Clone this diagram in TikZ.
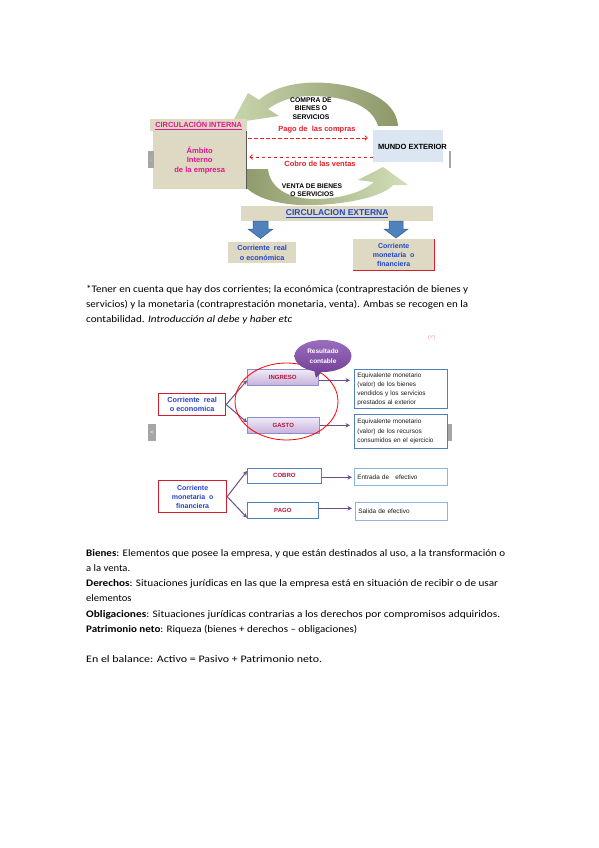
\documentclass[tikz,border=0pt]{standalone}
\usepackage{fontspec}
\usepackage{graphicx}
\setmainfont{Carlito}
\newfontfamily\diag{Liberation Sans}
\usetikzlibrary{shapes.geometric,shapes.callouts,arrows.meta,calc}
\definecolor{beige}{HTML}{DDD9C3}
\definecolor{mag}{HTML}{E4158F}
\definecolor{dred}{HTML}{E3202A}
\definecolor{dblue}{HTML}{2444C6}
\definecolor{lblue}{HTML}{DCE6F2}
\definecolor{arrblue}{HTML}{4F81BD}
\definecolor{arrblued}{HTML}{385D8A}
\definecolor{purpA}{HTML}{9A6DBE}
\definecolor{purpB}{HTML}{6E3C92}
\definecolor{conncol}{HTML}{6B4F8C}
\definecolor{boxblue}{HTML}{4F81BD}
\definecolor{lightbox}{HTML}{8DB4E2}
\definecolor{olived}{HTML}{8C9868}
\definecolor{olivel}{HTML}{D3DFB8}
\definecolor{lavA}{HTML}{F1EBF8}
\definecolor{lavB}{HTML}{C6B2DC}
\definecolor{lavborder}{HTML}{8E8CCB}
\definecolor{ingred}{HTML}{B3123E}
\definecolor{redb}{HTML}{D2202E}
\definecolor{tabgrey}{HTML}{A6A6A6}
\definecolor{txtgrey}{HTML}{1A1A1A}
\newcommand{\dfs}[2]{\diag\fontsize{#1}{#2}\selectfont}
\newcommand{\fitline}[2]{\resizebox{#1pt}{\height}{#2}}
\tikzset{
  lab/.style={inner sep=0pt, align=center},
  body/.style={inner sep=0pt, anchor=base west, font=\fontsize{10}{12}\selectfont},
  beigebox/.style={fill=beige, inner sep=0pt, anchor=north west},
  conn/.style={draw=conncol, line width=1pt, -{Stealth[length=4.5pt,width=4.5pt]}},
  redash/.style={draw=dred, line width=0.8pt, dash pattern=on 3.5pt off 2.5pt, -{Straight Barb[length=2.5pt,width=4.5pt]}},
  lavbox/.style={top color=lavA, bottom color=lavB, draw=lavborder, line width=0.6pt, inner sep=0pt, anchor=north west},
  whbox/.style={fill=white, draw=boxblue, line width=0.7pt, inner sep=0pt, anchor=north west},
  txtbox/.style={fill=white, draw=boxblue, line width=0.8pt, inner sep=3pt, anchor=north west, align=left, text=txtgrey},
  redbox/.style={fill=white, draw=redb, line width=1.2pt, inner sep=0pt, anchor=north west, align=center},
  tab/.style={fill=tabgrey, inner sep=0pt, anchor=north west, text=white},
}
\begin{document}
\begin{tikzpicture}[x=1pt,y=-1pt]
\useasboundingbox (0,0) rectangle (599,848);
\fill[white] (0,0) rectangle (599,848);

% ---------- top diagram: curved arrows
\shade[left color=olivel!85!olived, right color=olived]
  (398,126) .. controls (396,92) and (340,80) .. (305,83)
  .. controls (282,85) and (268,92) .. (259,100)
  -- (248,93) -- (232,123) -- (279,116) -- (268,109)
  .. controls (280,100) and (295,96) .. (310,96)
  .. controls (345,96) and (372,105) .. (378,126) -- cycle;
\shade[left color=olived, right color=olivel]
  (238,169) .. controls (238,195) and (275,207) .. (318,205)
  .. controls (355,203) and (385,195) .. (393,185)
  -- (408,185) -- (383,167) -- (358,180) -- (374,182)
  .. controls (362,193) and (338,199) .. (315,199)
  .. controls (288,199) and (270,188) .. (268,169) -- cycle;

\node[lab, font=\dfs{6.8}{8.5}\bfseries] (compra) at (311,108.5) {COMPRA DE\\BIENES O\\SERVICIOS};
\node[lab, font=\dfs{6.7}{8}\bfseries] (venta) at (312,190) {VENTA DE BIENES\\O SERVICIOS};

\node[beigebox, minimum width=97pt, minimum height=12pt] (cint) at (150,119)
  {\dfs{7.4}{8}\bfseries\color{mag}\underline{CIRCULACIÓN INTERNA}};
\node[beigebox, minimum width=93pt, minimum height=58pt, align=center, text=mag,
  font=\dfs{7.6}{9.5}\bfseries] (ambito) at (153,131) {Ámbito\\Interno\\de la empresa};
\draw[black!65, line width=1pt] (ambito.north east) -- (ambito.south east);

\node[fill=lblue, inner sep=0pt, anchor=north west, minimum width=70pt, minimum height=32pt] (mundo) at (373,130) {};
\node[lab, font=\dfs{7.5}{8}\bfseries] (mundotxt) at (412.5,147) {MUNDO EXTERIOR};

\draw[redash, shorten <=2pt, shorten >=5pt] (ambito.east |- 0,138) -- (mundo.west |- 0,138);
\draw[redash, shorten >=3pt] (mundo.west |- 0,157) -- (ambito.east |- 0,157);
\node[lab, font=\dfs{7.5}{8}\bfseries, text=dred] (pago) at (317,130) {Pago de \ las compras};
\node[lab, font=\dfs{7.5}{8}\bfseries, text=dred] (cobrot) at (320,164) {Cobro de las ventas};

\node[beigebox, minimum width=192pt, minimum height=15pt] (cext) at (241,206)
  {\dfs{8.5}{9}\bfseries\color{dblue}\underline{CIRCULACION EXTERNA}};

\filldraw[fill=arrblue, draw=arrblued, line width=0.5pt]
  (253,221) -- (268,221) -- (268,229) -- (273,229) -- (260.5,238.5) -- (248,229) -- (253,229) -- cycle;
\filldraw[fill=arrblue, draw=arrblued, line width=0.5pt]
  (389,221) -- (403,221) -- (403,229) -- (408,229) -- (396,238) -- (384,229) -- (389,229) -- cycle;

\node[beigebox, minimum width=68pt, minimum height=21pt, align=center, text=dblue,
  font=\dfs{7.3}{10}\bfseries] (creal1) at (228,242) {Corriente \ real\\o económica};
\node[beigebox, minimum width=81pt, minimum height=31pt, align=center, text=dblue,
  font=\dfs{7}{9}\bfseries] (cmon1) at (353,239) {Corriente\\monetaria \ o\\financiera};
\draw[redb, line width=1pt] (cmon1.north east) -- (cmon1.south east) -- (cmon1.south west);

% slide navigation tabs
\node[tab, minimum width=6pt, minimum height=17pt, font=\dfs{5}{5}] (tabA) at (148,151) {:};
\node[tab, minimum width=2pt, minimum height=17pt] (tabB) at (449,151) {};

% ---------- paragraph
\node[body] (p1) at (86,292.3) {\fitline{382}{*Tener en cuenta que hay dos corrientes; la económica (contraprestación de bienes y}};
\node[body] (p2) at (86,307.6) {\fitline{382}{servicios) y la monetaria (contraprestación monetaria, venta). Ambas se recogen en la}};
\node[body] (p3) at (86,322.6) {\fitline{206}{contabilidad. \textit{Introducción al debe y haber etc}}};

% ---------- second diagram
\node[lab, font=\dfs{5.5}{6}, text=red!45] (umark) at (432,338) {(ᵘ”)};

\node[redbox, minimum width=67pt, minimum height=22pt, text=dblue, font=\dfs{7.3}{9}\bfseries] (creal2) at (158,393) {Corriente \ real\\o economica};
\node[lavbox, minimum width=71pt, minimum height=16pt, text=ingred, font=\dfs{6}{6}\bfseries] (ingreso) at (247,369) {INGRESO};
\node[lavbox, minimum width=72pt, minimum height=16pt, text=ingred, font=\dfs{6}{6}\bfseries] (gasto) at (247,417) {GASTO};
\node[txtbox, text width=87pt, minimum height=38pt, font=\dfs{6.4}{9}] (eq1) at (354,369)
  {Equivalente monetario\\(valor) de los bienes\\vendidos y los servicios\\prestados al exterior};
\node[txtbox, text width=87pt, minimum height=34pt, font=\dfs{6.4}{9.5}] (eq2) at (354,414)
  {Equivalente monetario\\(valor) de los recursos\\consumidos en el ejercicio};

\draw[conn] (creal2.east) -- ([yshift=-3pt]ingreso.west);
\draw[conn] (creal2.east) -- ([yshift=3pt]gasto.west);
\draw[conn, shorten >=4pt] ([yshift=-3pt]ingreso.east) -- ([yshift=-3pt]ingreso.east -| eq1.west);
\draw[conn, shorten >=4pt] (gasto.east) -- (gasto.east -| eq2.west);

\node[ellipse, draw=red, line width=0.8pt, minimum width=103pt, minimum height=77pt] (roval) at (286.5,401.5) {};
\node[ellipse callout, top color=purpA, bottom color=purpB, draw=none,
  callout absolute pointer={(316,378)}, minimum width=57pt, minimum height=32pt, inner sep=0pt,
  align=center, text=white, font=\dfs{6.5}{10}\bfseries] (res) at (323,356) {Resultado\\contable};

\node[tab, minimum width=8pt, minimum height=17pt, font=\dfs{6}{6}] (tabC) at (148,424) {<};
\node[tab, minimum width=4pt, minimum height=17pt] (tabD) at (448,424) {};

\node[redbox, minimum width=68pt, minimum height=32pt, text=dblue, font=\dfs{7}{9}\bfseries] (cmon2) at (158,480) {Corriente\\monetaria \ o\\financiera};
\node[whbox, minimum width=74pt, minimum height=15pt, text=ingred, font=\dfs{6}{6}\bfseries] (cobro) at (247,468) {COBRO};
\node[whbox, minimum width=71pt, minimum height=16pt, text=ingred, font=\dfs{6}{6}\bfseries] (pagob) at (247,502) {PAGO};
\node[txtbox, draw=lightbox, text width=87pt, minimum height=17pt, font=\dfs{6.4}{8}] (entrada) at (354,468) {Entrada de \ \ efectivo};
\node[txtbox, draw=lightbox, text width=86pt, minimum height=18pt, font=\dfs{6.4}{8}] (salida) at (355,502) {Salida de efectivo};

\draw[conn] (cmon2.east) -- ([yshift=-3pt]cobro.north west);
\draw[conn] (cmon2.east) -- ([yshift=1pt]pagob.south west);
\draw[conn, shorten >=2pt] ([yshift=-1.5pt]cobro.east) -- ([yshift=-1.5pt]cobro.east -| entrada.west);
\draw[conn, shorten >=3pt] ([yshift=2pt]pagob.east) -- ([yshift=2pt]pagob.east -| salida.west);

% ---------- definitions
\node[body] (b1) at (86,556) {\fitline{419}{\textbf{Bienes}: Elementos que posee la empresa, y que están destinados al uso, a la transformación o}};
\node[body] (b2) at (86,571) {\scalebox{1.06}[1]{a la venta.}};
\node[body] (b3) at (86,586.5) {\fitline{412}{\textbf{Derechos}: Situaciones jurídicas en las que la empresa está en situación de recibir o de usar}};
\node[body] (b4) at (86,601.7) {\scalebox{1.06}[1]{elementos}};
\node[body] (b5) at (86,617) {\fitline{414}{\textbf{Obligaciones}: Situaciones jurídicas contrarias a los derechos por compromisos adquiridos.}};
\node[body] (b6) at (86,632) {\fitline{271}{\textbf{Patrimonio neto}: Riqueza (bienes + derechos – obligaciones)}};
\node[body] (b7) at (86,662.5) {\fitline{236}{En el balance: Activo = Pasivo + Patrimonio neto.}};
\end{tikzpicture}
\end{document}
